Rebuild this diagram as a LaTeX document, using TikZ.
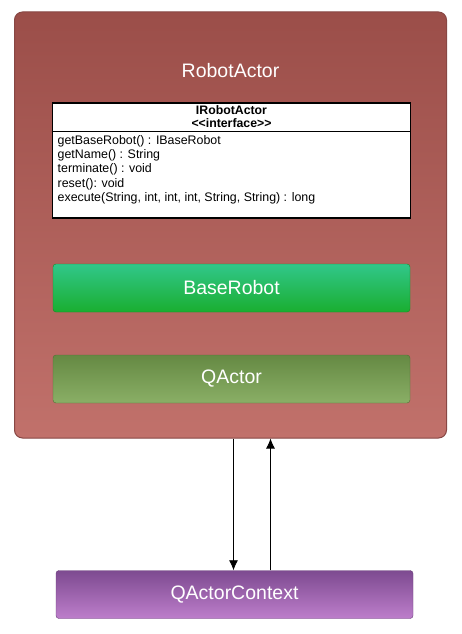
\documentclass[tikz,border=0pt]{standalone}
\usepackage{fontspec}
\setmainfont{Liberation Sans}[Ligatures=TeXOff]
\usetikzlibrary{arrows.meta,calc}
\definecolor{actortop}{HTML}{9B4E49}
\definecolor{actorbot}{HTML}{C1716B}
\definecolor{actorline}{HTML}{884744}
\definecolor{basetop}{HTML}{31C78A}
\definecolor{basebot}{HTML}{1AAE30}
\definecolor{qatop}{HTML}{658943}
\definecolor{qabot}{HTML}{8AAF66}
\definecolor{ctxtop}{HTML}{7D4A90}
\definecolor{ctxbot}{HTML}{BD7ECB}
\tikzset{
  block/.style={rounded corners=3pt,minimum width=357pt,minimum height=48pt,
    text=white,font=\fontsize{19.5}{21}\selectfont,inner sep=0pt},
  umlbox/.style={draw=black,line width=1.8pt,fill=white,minimum width=358pt,
    minimum height=115pt,inner sep=0pt},
  msg/.style={-{Latex[length=10pt,width=9pt]},line width=0.8pt}
}
\begin{document}
\begin{tikzpicture}[x=1pt,y=-1pt]
  \useasboundingbox[fill=white] (0,0) rectangle (461,634);
  % outer actor
  \node (robotactor) at (230.5,225) [rounded corners=8pt,draw=actorline,line width=1pt,
    top color=actortop,bottom color=actorbot,minimum width=432pt,minimum height=426pt] {};
  \node (title) at (230.5,71) [text=white,font=\fontsize{19.5}{21}\selectfont] {RobotActor};
  % interface
  \node (iface) at (231.5,160.5) [umlbox] {};
  \draw[line width=1.2pt] (iface.north west |- 0,131.5) -- (iface.north east |- 0,131.5);
  \node (ihead) at (231.5,117) [align=center,inner sep=0pt,
    font=\fontsize{12.3}{13}\selectfont\bfseries]
    {IRobotActor\\<<interface>>};
  \node (ibody) at (57.5,135) [anchor=north west,align=left,inner sep=0pt,
    font=\fontsize{12.4}{14.3}\selectfont]
    {getBaseRobot() : IBaseRobot\\getName() : String\\terminate() : void\\
    reset(): void\\execute(String, int, int, int, String, String) : long};
  % parts
  \node (baserobot) at (231.5,288) [block,shading angle=205,
    shade,top color=basetop,bottom color=basebot,draw=basebot!80!black] {BaseRobot};
  \node (qactor) at (231.5,379) [block,top color=qatop,bottom color=qabot,
    draw=qatop!80!black] {QActor};
  % context
  \node (ctx) at (234.5,594.5) [block,top color=ctxtop,bottom color=ctxbot,
    draw=ctxtop!85!black] {QActorContext};
  \coordinate (dn) at (233.5,0);
  \coordinate (up) at (270.5,0);
  \draw[msg] (robotactor.south -| dn) -- (ctx.north -| dn);
  \draw[msg] (ctx.north -| up) -- (robotactor.south -| up);
\end{tikzpicture}
\end{document}
